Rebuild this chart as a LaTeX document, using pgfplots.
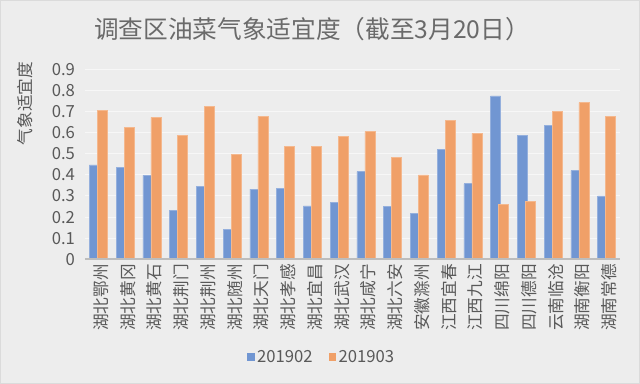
\documentclass[border=0pt]{standalone}
\usepackage{fontspec}
\setmainfont{Noto Sans CJK SC}
\usepackage{pgfplots}
\pgfplotsset{compat=1.18}
\definecolor{bg}{HTML}{EDEDED}
\definecolor{txt}{HTML}{595959}
\definecolor{gridc}{HTML}{F7F7F7}
\definecolor{axc}{HTML}{BDBDBD}
\definecolor{cblue}{HTML}{7196D2}
\definecolor{corange}{HTML}{F0A068}
\pgfplotsset{sqlegend/.style={legend image code/.code={\fill[##1,draw=none] (0pt,-2.7pt) rectangle (5.4pt,2.7pt);}}}
\begin{document}
\begin{tikzpicture}[x=1pt,y=1pt]
\fill[bg] (0,0) rectangle (480,288);
\draw[black!14, line width=0.75pt] (0.375,0.375) rectangle (479.625,287.625);
\node[text=txt!90, font=\fontsize{18.5}{20}\selectfont] at (234,266.5) {调查区油菜气象适宜度（截至3月20日）};
\begin{axis}[
  at={(63.75pt,93.5pt)}, anchor=south west,
  scale only axis, width=401.25pt, height=142.5pt,
  xmin=-0.5, xmax=19.5, ymin=0, ymax=0.9,
  axis line style={draw=none}, tick style={draw=none},
  ytick={0,0.1,0.2,0.3,0.4,0.5,0.6,0.7,0.8,0.9},
  yticklabels={0,0.1,0.2,0.3,0.4,0.5,0.6,0.7,0.8,0.9},
  ymajorgrids, grid style={draw=gridc, line width=0.75pt},
  xtick={0,...,19},
  xticklabels={湖北鄂州,湖北黄冈,湖北黄石,湖北荆门,湖北荆州,湖北随州,湖北天门,湖北孝感,湖北宜昌,湖北武汉,湖北咸宁,湖北六安,安徽滁州,江西宜春,江西九江,四川绵阳,四川德阳,云南临沧,湖南衡阳,湖南常德},
  xticklabel style={rotate=90, anchor=east, font=\fontsize{12.5}{13}\selectfont, text=txt, yshift=-2pt},
  yticklabel style={font=\fontsize{12.5}{13}\selectfont, text=txt, xshift=-4pt},
  /pgf/number format/assume math mode=true,
  ylabel={气象适宜度},
  ylabel style={at={(axis description cs:-0.112,0.82)}, anchor=center, font=\fontsize{12.5}{13}\selectfont, text=txt},
  legend style={at={(axis description cs:0.443,-0.514)}, anchor=center, draw=none, fill=none,
    legend columns=2, font=\fontsize{12.5}{13}\selectfont, text=txt,
    /tikz/every even column/.append style={column sep=10pt}},
]
\addplot[ybar, bar width=7.5pt, bar shift=-3pt, fill=cblue, draw=cblue!75!white, line width=0.4pt, sqlegend] coordinates {
(0,0.447) (1,0.436) (2,0.398) (3,0.231) (4,0.347) (5,0.142) (6,0.332) (7,0.336) (8,0.253) (9,0.270)
(10,0.415) (11,0.251) (12,0.218) (13,0.521) (14,0.358) (15,0.774) (16,0.587) (17,0.633) (18,0.420) (19,0.300)};
\addlegendentry{201902}
\addplot[ybar, bar width=7.5pt, bar shift=3pt, fill=corange, draw=corange!75!white, line width=0.4pt, sqlegend] coordinates {
(0,0.704) (1,0.624) (2,0.673) (3,0.587) (4,0.725) (5,0.496) (6,0.677) (7,0.535) (8,0.535) (9,0.584)
(10,0.605) (11,0.483) (12,0.400) (13,0.657) (14,0.597) (15,0.262) (16,0.275) (17,0.701) (18,0.742) (19,0.677)};
\addlegendentry{201903}
\draw[axc, line width=1.3pt] (axis cs:-0.5,0) -- (axis cs:19.5,0);
\end{axis}
\pgfresetboundingbox
\path[use as bounding box] (0,0) rectangle (480,288);
\end{tikzpicture}
\end{document}
